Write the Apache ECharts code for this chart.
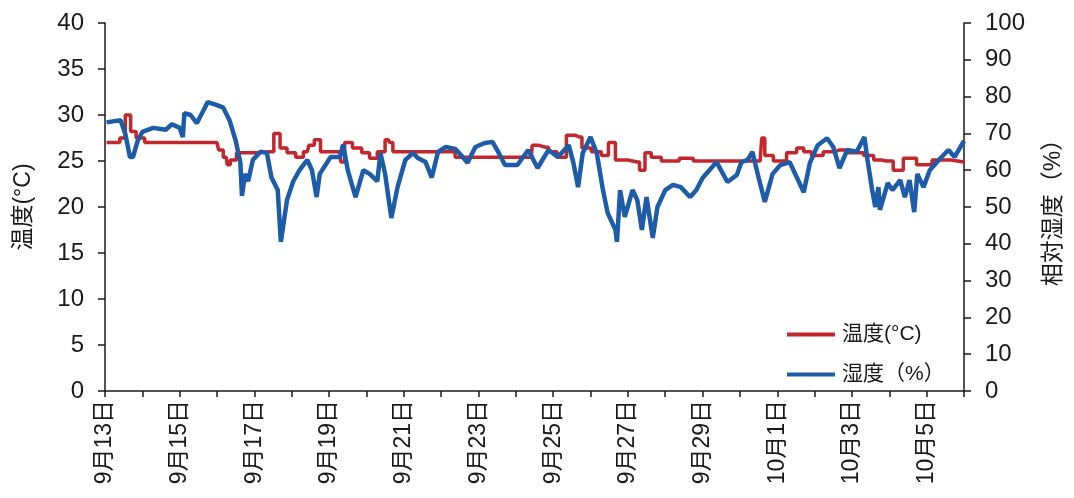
<!DOCTYPE html>
<html>
<head>
<meta charset="utf-8">
<script src="https://cdn.jsdelivr.net/npm/echarts@6/dist/echarts.min.js"></script>
<style>
  html, body { margin: 0; padding: 0; background: #ffffff; }
  #chart { width: 1074px; height: 498px; }
</style>
</head>
<body>
<div id="chart"></div>
<script>
// Logger readings, time in hours since 9月13日 00:00
const startMonth = 9;
const startDay = 13;
const daysInStartMonth = 30;

const tempHours = [1, 8, 11, 15, 18, 22, 29, 72, 74, 78, 79, 82, 87, 106, 111, 114, 120, 125, 130, 132, 137, 140, 151, 152, 156, 162, 168, 172, 178, 182, 184, 186, 223, 227, 274, 275, 283, 287, 294, 299, 305, 308, 317, 321, 326, 330, 342, 345, 349, 353, 362, 376, 380, 421, 423, 425, 434, 442, 447, 451, 457, 466, 472, 483, 492, 496, 502, 511, 515, 528, 535, 552];
const tempValues = [27, 27, 27.5, 30, 28.2, 27.5, 27, 27, 26.2, 25.4, 24.6, 25.1, 25.9, 26, 28, 26.4, 25.9, 25.4, 26, 26.7, 27.3, 26, 26, 24.9, 27, 26.4, 25.9, 25.3, 26, 27.3, 27, 26, 26, 25.4, 25.4, 26.7, 26.5, 26, 25.4, 27.8, 27.6, 26.4, 26, 25.6, 27, 25.1, 24.9, 24, 25.9, 25.4, 25, 25.3, 25, 25, 27.5, 25.6, 25, 25.9, 26.4, 26, 25.6, 26, 26.2, 25.9, 25.6, 25.1, 25, 24, 25.3, 24.6, 25.1, 24.9];

const humHours = [1, 10, 13, 16, 18, 21, 24, 31, 39, 43, 48, 50, 51, 55, 59, 63, 66, 72, 76, 80, 84, 87, 88, 90, 92, 95, 100, 104, 107, 111, 113, 117, 121, 125, 130, 133, 136, 138, 145, 151, 153, 156, 161, 166, 170, 175, 177, 180, 184, 188, 193, 198, 201, 206, 210, 214, 219, 225, 229, 233, 238, 244, 249, 253, 257, 265, 272, 278, 285, 291, 298, 301, 304, 307, 312, 316, 320, 323, 328, 329, 331, 334, 339, 342, 345, 348, 352, 355, 360, 365, 370, 376, 380, 384, 393, 400, 406, 409, 413, 416, 420, 424, 429, 434, 440, 449, 453, 458, 464, 468, 472, 477, 483, 488, 490, 493, 495, 497, 498, 503, 506, 511, 514, 517, 520, 522, 526, 530, 537, 542, 546, 552];
const humValues = [73, 73.6, 70, 63.6, 63.6, 68, 70.4, 71.5, 71, 72.5, 71.5, 69, 75.5, 75, 72.8, 76, 78.5, 77.7, 77, 73.6, 68, 62, 53, 59, 57, 62.8, 65, 64.7, 58, 54.6, 40.5, 52, 57, 60, 62.8, 60, 52.7, 59, 63.6, 63.6, 67, 60, 52.7, 60, 59, 57, 64.7, 59, 47, 55.4, 62.8, 64.7, 63.3, 62.2, 58, 65, 66.3, 65.8, 64, 62, 66.3, 67.4, 67.7, 64.7, 61.4, 61.4, 65.5, 60.6, 65.5, 63.6, 66.8, 62, 55.4, 64.7, 69, 64.7, 54.6, 48.4, 43.8, 40.5, 54.6, 47.3, 54.6, 52, 43.8, 52.7, 41.6, 50, 54.6, 56, 55.4, 52.7, 54.6, 57.9, 62.2, 56.8, 58.7, 62.2, 62.8, 65, 58, 51.4, 59, 61.4, 62.2, 54, 62, 66.8, 68.7, 66.3, 60.6, 65.5, 65, 69, 62.8, 54.6, 50, 55.4, 49.2, 56.5, 54.6, 57.3, 52.7, 57.3, 48.6, 59, 55.4, 60, 63.3, 65.5, 63.6, 68];

const tempName = '温度(°C)';
const humName = '湿度（%）';

const pairs = (xs, ys) => xs.map((x, i) => [x, ys[i]]);

function dateLabel(hours) {
  const d = Math.round(hours / 24);
  if (d % 2 !== 0) return '';
  let day = startDay + d;
  let month = startMonth;
  if (day > daysInStartMonth) { day -= daysInStartMonth; month += 1; }
  return month + '月' + day + '日';
}

const axisColor = '#1a1a1a';
const textColor = '#1a1a1a';
const font = 'Liberation Sans, Arial, Noto Sans CJK JP, sans-serif';

const chart = echarts.init(document.getElementById('chart'), null, { renderer: 'canvas' });
chart.setOption({
  animation: false,
  backgroundColor: '#ffffff',
  textStyle: { fontFamily: font, color: textColor },
  grid: { left: 105, right: 110, top: 23, bottom: 107, containLabel: false },
  legend: {
    orient: 'vertical',
    left: 782,
    top: 319,
    itemWidth: 48,
    itemHeight: 4,
    itemGap: 19,
    icon: 'rect',
    textStyle: { fontSize: 21, color: textColor, fontFamily: font, padding: [0, 0, 0, 2] },
    data: [tempName, humName]
  },
  xAxis: {
    type: 'value',
    min: 0,
    max: 552,
    interval: 24,
    axisLine: { show: true, lineStyle: { color: axisColor, width: 1.5 } },
    axisTick: { show: true, length: 6, lineStyle: { color: axisColor, width: 1.5 } },
    splitLine: { show: false },
    axisLabel: {
      rotate: 90,
      fontSize: 23,
      color: textColor,
      margin: 9,
      showMaxLabel: true,
      formatter: v => dateLabel(v)
    }
  },
  yAxis: [
    {
      type: 'value',
      min: 0,
      max: 40,
      interval: 5,
      name: tempName,
      nameLocation: 'middle',
      nameRotate: 90,
      nameGap: 70,
      nameTextStyle: { fontSize: 23, color: textColor },
      axisLine: { show: true, lineStyle: { color: axisColor, width: 1.5 } },
      axisTick: { show: true, length: 7, lineStyle: { color: axisColor, width: 1.5 } },
      splitLine: { show: false },
      axisLabel: { fontSize: 24, color: textColor, margin: 21 }
    },
    {
      type: 'value',
      min: 0,
      max: 100,
      interval: 10,
      position: 'right',
      name: '相対湿度（%）',
      nameLocation: 'middle',
      nameRotate: 90,
      nameGap: 78,
      nameTextStyle: { fontSize: 23, color: textColor },
      axisLine: { show: true, lineStyle: { color: axisColor, width: 1.5 } },
      axisTick: { show: true, length: 7, lineStyle: { color: axisColor, width: 1.5 } },
      splitLine: { show: false },
      axisLabel: { fontSize: 24, color: textColor, margin: 21 }
    }
  ],
  series: [
    {
      name: tempName,
      type: 'line',
      yAxisIndex: 0,
      step: 'middle',
      data: pairs(tempHours, tempValues),
      showSymbol: false,
      color: '#c1272d',
      lineStyle: { width: 3.5, color: '#c1272d' },
      z: 2
    },
    {
      name: humName,
      type: 'line',
      yAxisIndex: 1,
      data: pairs(humHours, humValues),
      showSymbol: false,
      color: '#1d5ca8',
      lineStyle: { width: 4.5, color: '#1d5ca8' },
      z: 3
    }
  ]
});
</script>
</body>
</html>
